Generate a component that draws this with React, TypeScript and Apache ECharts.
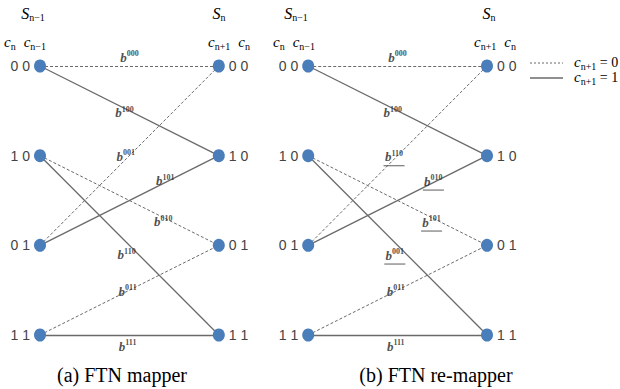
import React, { useEffect, useRef } from 'react';
import * as echarts from 'echarts';

// Trellis states, written c_n c_{n-1}, top to bottom
const states = ['00', '10', '01', '11'];
// x positions of the trellis columns: S_{n-1}, S_n of (a), then S_{n-1}, S_n of (b)
const columnX = [0, 1, 1.5, 2.5];
const columnSide = ['left', 'right', 'left', 'right'];

// Each branch leaves state c_n c_{n-1} with the new bit c_{n+1}
const branchFrom = ['00', '00', '01', '01', '10', '10', '11', '11'];
const branchBit = [0, 1, 0, 1, 0, 1, 0, 1];
const mapperSymbols = ['000', '100', '001', '101', '010', '110', '011', '111'];
const remapperSymbols = ['000', '100', '110', '010', '101', '001', '011', '111'];
const remapped = [false, false, true, true, true, true, false, false];

const captions = ['(a) FTN mapper', '(b) FTN re-mapper'];
const legendNames = ['= 0', '= 1'];

// Where each branch label sits: fraction along the branch and pixel nudge
const labelLayout = [
  { t: 0.5, dx: 0, dy: -9 },
  { t: 0.49, dx: -3, dy: 3 },
  { t: 0.48, dx: 0, dy: -3 },
  { t: 0.7, dx: 0, dy: -2 },
  { t: 0.69, dx: 0, dy: 4 },
  { t: 0.49, dx: -1, dy: 11 },
  { t: 0.49, dx: 0, dy: 0 },
  { t: 0.49, dx: 0, dy: 11 },
];

const LINE = '#6a6a6a';
const NODE = '#4a7ebb';
const solidStyle = { color: LINE, width: 1.3, type: 'solid' as const, opacity: 1 };
const dashedStyle = { color: LINE, width: 1, type: [3, 2] as any, opacity: 1 };

const rowOf = (s: string) => states.indexOf(s);
const nextState = (from: string, bit: number) => `${bit}${from[0]}`;

function branchLines(col: number) {
  return branchFrom.map((from, i) => {
    const to = nextState(from, branchBit[i]);
    return {
      coords: [
        [columnX[col], rowOf(from)],
        [columnX[col + 1], rowOf(to)],
      ],
      lineStyle: branchBit[i] ? solidStyle : dashedStyle,
    };
  });
}

function branchLabels(col: number, symbols: string[], underline: boolean[] | null) {
  return branchFrom.map((from, i) => {
    const to = nextState(from, branchBit[i]);
    const { t, dx, dy } = labelLayout[i];
    const x0 = columnX[col];
    const x1 = columnX[col + 1];
    const y0 = rowOf(from);
    const y1 = rowOf(to);
    const u = underline ? underline[i] : false;
    return {
      value: [x0 + (x1 - x0) * t, y0 + (y1 - y0) * t],
      label: {
        offset: [dx, dy + (u ? 2 : 0)],
        formatter: u ? `{b|b}{s|${symbols[i]}}\n{u| }` : `{b|b}{s|${symbols[i]}}`,
      },
    };
  });
}

const nodes = columnX.flatMap((x, c) =>
  states.map((s, r) => ({
    value: [x, r],
    label: { position: columnSide[c], formatter: s.split('').join(' ') },
  }))
);

const serif = 'Liberation Serif';
const mathRich = {
  S: { fontFamily: serif, fontStyle: 'italic', fontSize: 16, color: '#333' },
  c: { fontFamily: serif, fontStyle: 'italic', fontSize: 15, color: '#333' },
  sub: { fontFamily: serif, fontSize: 10, color: '#333', padding: [8, 0, 0, 0] },
  gap: { fontSize: 10, width: 8 },
  t: { fontFamily: serif, fontSize: 14, color: '#333' },
};

const branchRich = {
  b: { fontFamily: serif, fontStyle: 'italic', fontWeight: 'bold', fontSize: 13, color: '#222' },
  s: { fontFamily: serif, fontWeight: 'bold', fontSize: 8, color: '#222', padding: [0, 0, 7, 0] },
  u: { width: 21, height: 1, lineHeight: 3, fontSize: 1, backgroundColor: '#333' },
};

function mathText(text: string, x: number, y: number, align: string = 'center') {
  return {
    type: 'text',
    x,
    y,
    style: { text, rich: mathRich, align, verticalAlign: 'middle' },
  };
}

const headers = [
  mathText('{S|S}{sub|n−1}', 33, 13),
  mathText('{S|S}{sub|n}', 219, 13),
  mathText('{S|S}{sub|n−1}', 296, 13),
  mathText('{S|S}{sub|n}', 489, 13),
  mathText('{c|c}{sub|n}{gap| }{c|c}{sub|n−1}', 25, 42),
  mathText('{c|c}{sub|n+1}{gap| }{c|c}{sub|n}', 229, 42),
  mathText('{c|c}{sub|n}{gap| }{c|c}{sub|n−1}', 294, 42),
  mathText('{c|c}{sub|n+1}{gap| }{c|c}{sub|n}', 495, 42),
];

const legend = legendNames.flatMap((name, i) => [
  {
    type: 'line',
    shape: { x1: 530, y1: 63 + i * 15, x2: 563, y2: 63 + i * 15 },
    style: { stroke: LINE, lineWidth: i ? 1.3 : 1, lineDash: i ? null : [2, 2] },
  },
  mathText(`{c|c}{sub|n+1}{t| ${name}}`, 574, 62 + i * 15, 'left'),
]);

const captionTexts = captions.map((text, i) => ({
  type: 'text',
  x: i ? 436 : 122,
  y: 375,
  style: { text, font: `20px "${serif}"`, fill: '#000', align: 'center', verticalAlign: 'middle' },
}));

const option = {
  animation: false,
  backgroundColor: '#fff',
  grid: { left: 40, right: 133, top: 66, bottom: 54 },
  xAxis: { type: 'value', min: 0, max: 2.5, show: false },
  yAxis: { type: 'value', min: 0, max: 3, inverse: true, show: false },
  series: [
    {
      type: 'lines',
      coordinateSystem: 'cartesian2d',
      data: [...branchLines(0), ...branchLines(2)],
      clip: false,
      z: 1,
      silent: true,
    },
    {
      type: 'scatter',
      data: nodes,
      symbol: 'circle',
      symbolSize: [12, 13],
      itemStyle: { color: NODE, opacity: 1 },
      clip: false,
      z: 3,
      label: {
        show: true,
        distance: 4,
        fontFamily: 'Liberation Sans',
        fontSize: 14,
        color: '#444',
      },
    },
    {
      type: 'scatter',
      data: [...branchLabels(0, mapperSymbols, null), ...branchLabels(2, remapperSymbols, remapped)],
      symbolSize: 0,
      clip: false,
      z: 4,
      label: { show: true, position: 'inside', rich: branchRich },
    },
  ],
  graphic: [...headers, ...legend, ...captionTexts],
};

export default function App() {
  const ref = useRef<HTMLDivElement>(null);
  useEffect(() => {
    const chart = echarts.init(ref.current!, null, { renderer: 'svg' });
    chart.setOption(option as any);
    return () => chart.dispose();
  }, []);
  return (
    <div
      ref={ref}
      style={{ position: 'fixed', left: 0, top: 0, width: 620, height: 389, background: '#fff' }}
    />
  );
}
